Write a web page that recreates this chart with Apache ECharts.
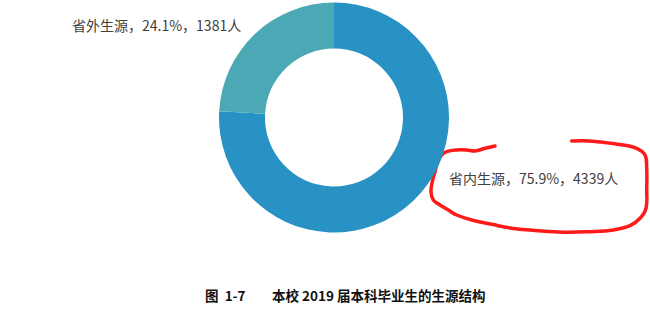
<!DOCTYPE html>
<html>
<head>
<meta charset="utf-8">
<script src="https://cdn.jsdelivr.net/npm/echarts@6/dist/echarts.min.js"></script>
<style>
  html, body { margin: 0; padding: 0; background: #ffffff; }
  #chart { width: 650px; height: 310px; }
</style>
</head>
<body>
<div id="chart"></div>
<script>
// Student origin of the 2019 undergraduate cohort
const categories = ['省内生源', '省外生源'];
const headcounts = [4339, 1381];
const sliceColors = ['#2892c4', '#4aa9b5'];

const captionNumber = '图  1-7';
const captionTitle = '本校 2019 届本科毕业生的生源结构';

// Where each slice's label sits (left edge, vertical middle)
const labelAnchors = [
  { x: 449, y: 178 },
  { x: 72, y: 25 }
];

// Hand-drawn red marker ring around the in-province label
const ringPoints = [
  [495, 146], [485, 148.3], [475, 151], [466.7, 150], [456.7, 150],
  [446.7, 151.7], [441.7, 155], [437.7, 161.7], [435, 171.7], [432.3, 181.7],
  [431, 191.7], [433.3, 200], [440, 205], [448.3, 210], [456.7, 215],
  [471.7, 220], [491.7, 224.3], [511.7, 228.3], [535, 230.5], [563.3, 232.3],
  [590, 231.7], [613.3, 230], [630, 225.7], [640, 218.3], [646, 208.3],
  [646.7, 188.3], [646.7, 168.3], [645, 155], [636.7, 148.3], [623.3, 145],
  [603.3, 142.3], [583.3, 140.7], [571.7, 141]
];

const pieData = categories.map((name, i) => ({
  name: name,
  value: headcounts[i],
  itemStyle: { color: sliceColors[i] }
}));

const chart = echarts.init(document.getElementById('chart'), null, { renderer: 'svg' });

chart.setOption({
  backgroundColor: '#ffffff',
  animation: false,
  series: [{
    type: 'pie',
    center: [334, 117.5],
    radius: [69, 115],
    startAngle: 90,
    clockwise: true,
    percentPrecision: 1,
    silent: true,
    data: pieData,
    itemStyle: { borderWidth: 0 },
    label: {
      show: true,
      position: 'outside',
      formatter: '{b}，{d}%，{c}人',
      fontFamily: '"Noto Sans CJK SC", sans-serif',
      fontSize: 14,
      color: '#404040'
    },
    labelLine: { show: false },
    labelLayout: function (params) {
      const a = labelAnchors[params.dataIndex];
      return { x: a.x, y: a.y, align: 'left', verticalAlign: 'middle' };
    }
  }],
  graphic: [
    {
      type: 'polyline',
      silent: true,
      shape: { points: ringPoints, smooth: 0.4 },
      style: { stroke: '#ff1a1a', lineWidth: 3.5, fill: null, lineCap: 'round', lineJoin: 'round' }
    },
    {
      type: 'text',
      left: 205,
      top: 288,
      style: {
        text: captionNumber,
        font: 'bold 13.5px "Noto Sans CJK SC", sans-serif',
        fill: '#111111'
      }
    },
    {
      type: 'text',
      left: 272,
      top: 288,
      style: {
        text: captionTitle,
        font: 'bold 13.5px "Noto Sans CJK SC", sans-serif',
        fill: '#111111'
      }
    }
  ]
});
</script>
</body>
</html>
